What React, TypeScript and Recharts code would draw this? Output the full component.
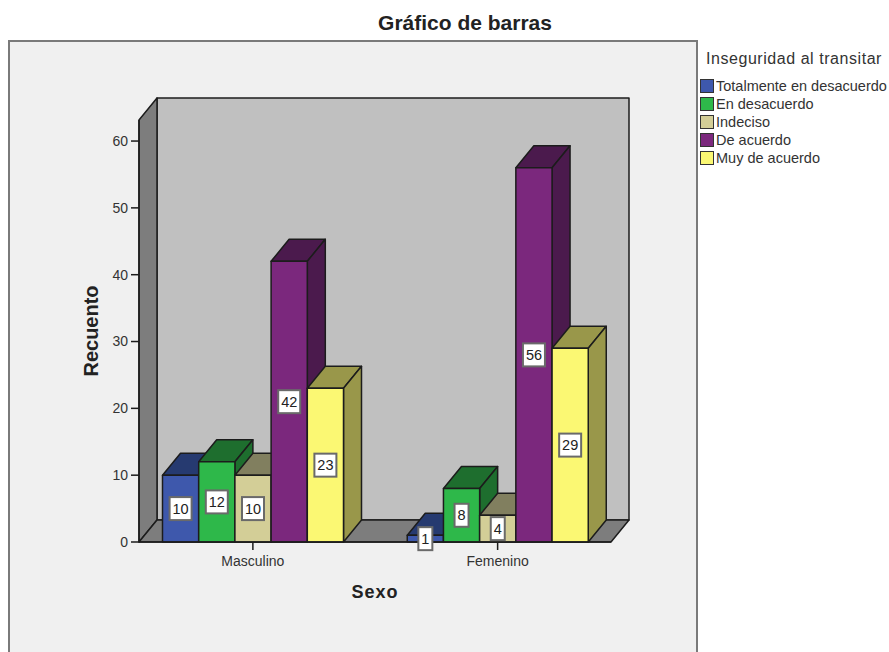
import { Bar, BarChart, LabelList, Legend, XAxis, YAxis, usePlotArea } from "recharts";

const categories = ["Masculino", "Femenino"];
const totalmente = [10, 1];
const enDesacuerdo = [12, 8];
const indeciso = [10, 4];
const deAcuerdo = [42, 56];
const muyDeAcuerdo = [23, 29];
const yTicks = [0, 10, 20, 30, 40, 50, 60];

const data = categories.map((sexo, i) => ({
  sexo,
  totalmente: totalmente[i],
  enDesacuerdo: enDesacuerdo[i],
  indeciso: indeciso[i],
  deAcuerdo: deAcuerdo[i],
  muyDeAcuerdo: muyDeAcuerdo[i],
}));

const INK = "#1c1c1c";
const DX = 18;
const DY = -22;
const FONT = "'Liberation Sans', Arial, sans-serif";

// floor and the two walls behind the bars
function Walls() {
  const plot = usePlotArea();
  if (!plot) return null;
  const { x, y, width, height } = plot;
  const r = x + width;
  const b = y + height;
  return (
    <g stroke={INK} strokeWidth={1.5} strokeLinejoin="round">
      <rect x={x + DX} y={y + DY} width={width} height={height} fill="#c0c0c0" />
      <polygon points={`${x},${y} ${x + DX},${y + DY} ${x + DX},${b + DY} ${x},${b}`} fill="#7d7d7d" />
      <polygon points={`${x},${b} ${r},${b} ${r + DX},${b + DY} ${x + DX},${b + DY}`} fill="#7d7d7d" />
    </g>
  );
}

function box3d(shade: string) {
  return function Box3d(props: any) {
    const { x, y, width, height, fill } = props;
    const r = x + width;
    const b = y + height;
    return (
      <g stroke={INK} strokeWidth={1.5} strokeLinejoin="round">
        <polygon points={`${x},${y} ${r},${y} ${r + DX},${y + DY} ${x + DX},${y + DY}`} fill={shade} />
        <polygon points={`${r},${y} ${r + DX},${y + DY} ${r + DX},${b + DY} ${r},${b}`} fill={shade} />
        <rect x={x} y={y} width={width} height={height} fill={fill} />
      </g>
    );
  };
}

function ValueBox(props: any) {
  const { x, y, width, height, value } = props;
  const w = String(value).length > 1 ? 22 : 14;
  const h = 23;
  const cx = x + width / 2;
  const cy = y + height / 2;
  return (
    <g>
      <rect x={cx - w / 2} y={cy - h / 2} width={w} height={h} fill="#ffffff" stroke="#6a6a6a" strokeWidth={2} />
      <text x={cx} y={cy + 5} textAnchor="middle" fontFamily={FONT} fontSize={14.5} fill="#222222">
        {value}
      </text>
    </g>
  );
}

function LegendBox({ payload }: any) {
  return (
    <div style={{ fontFamily: FONT, color: "#333333" }}>
      <div style={{ fontSize: 16, letterSpacing: 0.55, height: 27, lineHeight: "18px", marginLeft: 6 }}>
        Inseguridad al transitar
      </div>
      {(payload || []).map((p: any) => (
        <div key={p.value} style={{ display: "flex", alignItems: "center", height: 18 }}>
          <span
            style={{
              width: 12,
              height: 12,
              background: p.color,
              border: "1.5px solid #333333",
              marginRight: 2,
              display: "inline-block",
            }}
          />
          <span style={{ fontSize: 14.5, whiteSpace: "nowrap" }}>{p.value}</span>
        </div>
      ))}
    </div>
  );
}

export default function App() {
  return (
    <div style={{ position: "absolute", left: 0, top: 0, width: 889, height: 652, overflow: "hidden", background: "#fff" }}>
      <div
        style={{
          position: "absolute",
          left: 8,
          top: 40,
          width: 686,
          height: 640,
          background: "#f0f0f0",
          border: "2px solid #7a7a7a",
        }}
      />
      <div
        style={{
          position: "absolute",
          left: 9,
          width: 912,
          top: 11,
          textAlign: "center",
          fontFamily: FONT,
          fontWeight: 700,
          fontSize: 21,
          color: "#222222",
        }}
      >
        Gráfico de barras
      </div>
      <div style={{ position: "absolute", left: 0, top: 0 }}>
        <BarChart
          width={889}
          height={652}
          data={data}
          barSize={36.2}
          barGap={0}
          margin={{ top: 120, right: 278, bottom: 50, left: 79 }}
        >
          <Walls />
          <XAxis
            dataKey="sexo"
            height={60}
            padding={{ left: -8.5, right: -9 }}
            tickSize={8}
            tickMargin={6}
            tick={{ fill: "#333333", fontSize: 14, fontFamily: FONT }}
            axisLine={{ stroke: INK, strokeWidth: 1.5 }}
            tickLine={{ stroke: INK, strokeWidth: 1.5 }}
            label={{
              value: "Sexo",
              position: "insideBottom",
              offset: 4,
              fill: "#222222",
              fontSize: 18,
              fontWeight: 700,
              fontFamily: FONT,
              letterSpacing: 1,
            }}
          />
          <YAxis
            width={60}
            domain={[0, 63.15]}
            ticks={yTicks}
            tickSize={8}
            tickMargin={3}
            tick={{ fill: "#333333", fontSize: 14, fontFamily: FONT }}
            axisLine={{ stroke: INK, strokeWidth: 1.5 }}
            tickLine={{ stroke: INK, strokeWidth: 1.5 }}
            label={{
              value: "Recuento",
              angle: -90,
              position: "insideLeft",
              offset: 12,
              textAnchor: "middle",
              fill: "#222222",
              fontSize: 20,
              fontWeight: 700,
              fontFamily: FONT,
            }}
          />
          <Legend
            layout="vertical"
            align="center"
            verticalAlign="middle"
            itemSorter={null}
            content={<LegendBox />}
            wrapperStyle={{ position: "absolute", left: 700, top: 50, width: 189, bottom: "auto" }}
          />
          <Bar dataKey="totalmente" name="Totalmente en desacuerdo" fill="#3e58ac" shape={box3d("#263a70")} isAnimationActive={false}>
            <LabelList dataKey="totalmente" content={<ValueBox />} />
          </Bar>
          <Bar dataKey="enDesacuerdo" name="En desacuerdo" fill="#2eb84a" shape={box3d("#1e6e2e")} isAnimationActive={false}>
            <LabelList dataKey="enDesacuerdo" content={<ValueBox />} />
          </Bar>
          <Bar dataKey="indeciso" name="Indeciso" fill="#d3ce97" shape={box3d("#817f5f")} isAnimationActive={false}>
            <LabelList dataKey="indeciso" content={<ValueBox />} />
          </Bar>
          <Bar dataKey="deAcuerdo" name="De acuerdo" fill="#7b287d" shape={box3d("#4b1a4d")} isAnimationActive={false}>
            <LabelList dataKey="deAcuerdo" content={<ValueBox />} />
          </Bar>
          <Bar dataKey="muyDeAcuerdo" name="Muy de acuerdo" fill="#fbf873" shape={box3d("#99974a")} isAnimationActive={false}>
            <LabelList dataKey="muyDeAcuerdo" content={<ValueBox />} />
          </Bar>
        </BarChart>
      </div>
    </div>
  );
}
